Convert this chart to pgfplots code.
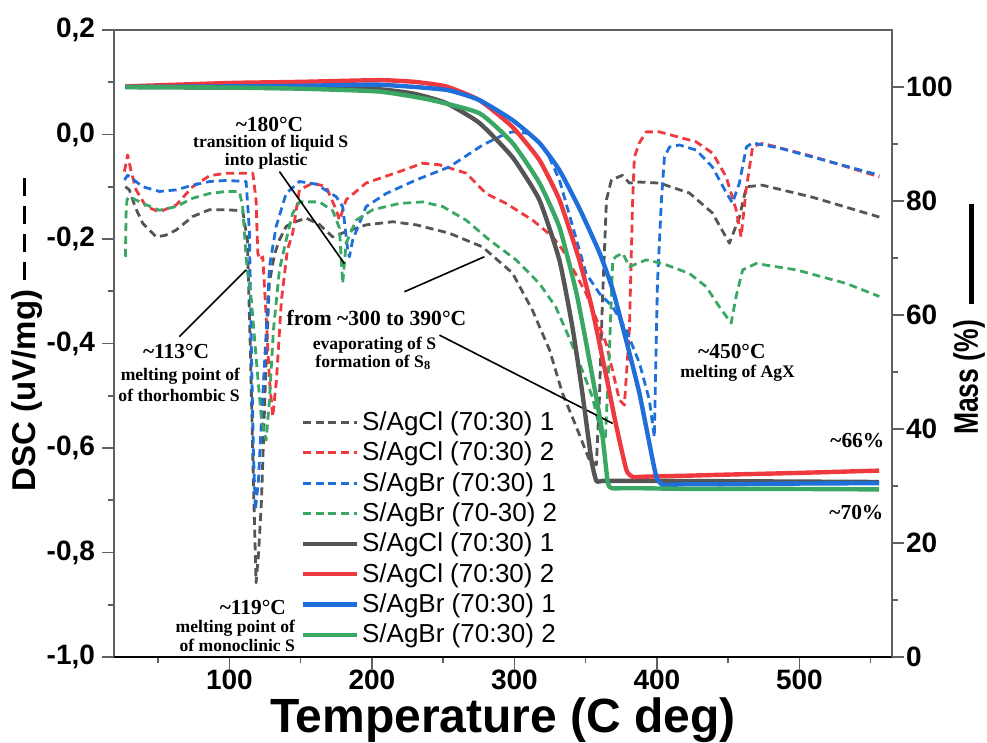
\documentclass[border=0pt]{standalone}
\usepackage{fontspec}
\setmainfont{Liberation Sans}
\newfontfamily\tnr{Liberation Serif}
\usepackage{pgfplots}
\pgfplotsset{compat=1.18}
\definecolor{cgray}{HTML}{555555}
\definecolor{cred}{HTML}{EE3A3E}
\definecolor{cblue}{HTML}{1F6FDA}
\definecolor{cgreen}{HTML}{3AA864}
\definecolor{axc}{HTML}{606060}
\tikzset{
  annA/.style={font=\tnr\bfseries\fontsize{10.7}{12}\selectfont,inner sep=1pt},
  annB/.style={font=\tnr\bfseries\fontsize{8.8}{10}\selectfont,inner sep=1pt},
}
\newcommand\dd{\hspace{5pt}\rule[0.3em]{9pt}{1.5pt}}
\pgfplotsset{
  dsc/.style={line width=1.4pt,dash pattern=on 4pt off 2.4pt,line join=round},
  tga/.style={line width=2.2pt,line join=round,smooth,tension=0.3},
  common/.style={width=389pt,height=313.5pt,scale only axis,
    xmin=19,xmax=565,
    tick align=outside,major tick length=6pt,minor tick length=3pt,
    tick style={axc,line width=0.8pt},
    axis line style={axc,line width=1pt},
    tick label style={font=\fontsize{14}{16}\bfseries\selectfont},
    /pgf/number format/assume math mode=true},
}
\begin{document}
\begin{tikzpicture}
\begin{axis}[common,name=ax,
  ymin=-1,ymax=0.2,
  xtick={100,200,...,500},minor xtick={50,150,...,550},
  ytick={-1,-0.8,...,0.21},minor ytick={-0.9,-0.7,...,0.1},
  xtick pos=bottom,ytick pos=left,
  xticklabel style={yshift=3pt},
  yticklabel style={/pgf/number format/.cd,fixed,fixed zerofill,precision=1,use comma},
  xlabel={Temperature (C deg)},
  xlabel style={at={(axis description cs:0.5,0)},anchor=center,yshift=-31.5pt,
    font=\fontsize{24}{26}\bfseries\selectfont},
  ylabel={DSC (uV/mg)\dd\dd\dd\dd},
  ylabel style={at={(axis description cs:0,0.5)},anchor=center,xshift=4.5pt,yshift=43.5pt,
    font=\fontsize{16.5}{18}\bfseries\selectfont},
]
% S/AgCl 1
\addplot[dsc,cgray] coordinates {(27,-0.10) (29.8,-0.106) (34,-0.14) (39.2,-0.170) (48.6,-0.196) (55,-0.193) (62.6,-0.183) (74.2,-0.157) (86,-0.144) (97.7,-0.144) (109.3,-0.146) (112.6,-0.202) (114.7,-0.412) (116.8,-0.661) (118.7,-0.858) (120.5,-0.80) (122.5,-0.70) (125.3,-0.47) (128,-0.284) (131.6,-0.23) (135,-0.202) (139.8,-0.176) (144.2,-0.169) (153.8,-0.160) (163,-0.172) (172.5,-0.196) (176,-0.192) (181.9,-0.186) (195.9,-0.173) (214.6,-0.167) (231.2,-0.173) (254.4,-0.189) (277.5,-0.215) (298.6,-0.265) (312.6,-0.336) (324.6,-0.412) (333.7,-0.495) (343.5,-0.560) (352.6,-0.623) (357.5,-0.632) (359.6,-0.508) (361.8,-0.317) (364.6,-0.125) (368.1,-0.087) (375.8,-0.078) (380.7,-0.093) (387.7,-0.091) (401.8,-0.093) (422.8,-0.112) (438.9,-0.150) (450.9,-0.208) (457.9,-0.158) (462.8,-0.100) (474.0,-0.097) (509.1,-0.120) (556.1,-0.158)};
% S/AgCl 2
\addplot[dsc,cred] coordinates {(26.3,-0.071) (28.6,-0.039) (31,-0.07) (34.5,-0.106) (41.5,-0.138) (50.9,-0.148) (62.6,-0.135) (74.2,-0.100) (86,-0.079) (97.7,-0.074) (116.4,-0.074) (118.7,-0.125) (119.9,-0.227) (121.5,-0.240) (123.4,-0.234) (125.8,-0.349) (128.1,-0.470) (130.4,-0.540) (133,-0.470) (136.5,-0.317) (140.7,-0.221) (144.4,-0.189) (149.1,-0.106) (158.5,-0.093) (167.9,-0.100) (174.9,-0.144) (177.2,-0.164) (181.9,-0.125) (195.9,-0.093) (219.3,-0.071) (235.6,-0.055) (247.4,-0.058) (266.1,-0.074) (280.1,-0.113) (294.2,-0.132) (312.8,-0.164) (326.9,-0.196) (333.9,-0.221) (350.3,-0.304) (364.4,-0.400) (373.7,-0.508) (377.2,-0.518) (380.7,-0.374) (383,-0.125) (384.2,-0.043) (387.7,-0.016) (392.4,0.005) (401.8,0.005) (427.5,-0.014) (439.2,-0.036) (448.6,-0.081) (455.6,-0.144) (459.1,-0.196) (462.6,-0.106) (467.2,-0.023) (474.3,-0.017) (509.4,-0.042) (556.1,-0.081)};
% S/AgBr 1
\addplot[dsc,cblue] coordinates {(26.3,-0.087) (28.6,-0.078) (39.2,-0.100) (50.9,-0.109) (62.6,-0.106) (74.2,-0.097) (86,-0.090) (97.7,-0.088) (111.7,-0.090) (114,-0.183) (115.4,-0.412) (116.8,-0.604) (118.2,-0.719) (120.4,-0.661) (122.5,-0.546) (125.8,-0.380) (128.1,-0.253) (132.8,-0.176) (139.8,-0.113) (149.1,-0.090) (160.8,-0.095) (174.9,-0.119) (179.5,-0.138) (183,-0.221) (184.2,-0.234) (186.5,-0.202) (195.9,-0.138) (210,-0.113) (231,-0.087) (254.4,-0.062) (277.8,-0.020) (294.2,0.002) (298.8,0.005) (310.5,0.002) (322.2,-0.030) (331.6,-0.087) (340.9,-0.176) (350.3,-0.266) (359.6,-0.304) (369,-0.330) (378.4,-0.374) (387.7,-0.437) (394.7,-0.508) (398.2,-0.579) (400.4,-0.284) (403.2,-0.125) (405.3,-0.043) (408.8,-0.024) (415.8,-0.020) (427.7,-0.030) (438.9,-0.062) (448.8,-0.112) (453,-0.131) (457.9,-0.093) (462.8,-0.024) (467,-0.016) (486,-0.026) (509.1,-0.043) (556.1,-0.078)};
% S/AgBr 2
\addplot[dsc,cgreen] coordinates {(27,-0.234) (27.5,-0.15) (28.1,-0.125) (29.8,-0.119) (39.2,-0.132) (50.9,-0.145) (62.6,-0.138) (74.2,-0.122) (86,-0.113) (97.7,-0.109) (107,-0.109) (109.3,-0.138) (111.7,-0.234) (112.6,-0.259) (115.4,-0.317) (118.9,-0.432) (122.5,-0.546) (125.8,-0.585) (128.1,-0.508) (130.9,-0.374) (135.1,-0.259) (139.8,-0.202) (144.4,-0.151) (149.1,-0.129) (163.2,-0.129) (172.5,-0.146) (177.2,-0.179) (179.5,-0.285) (181.9,-0.208) (188.9,-0.164) (200.6,-0.144) (219.3,-0.132) (235.6,-0.129) (249.7,-0.138) (266.1,-0.164) (282.5,-0.202) (301.2,-0.240) (317.5,-0.285) (329,-0.33) (338.6,-0.39) (345.6,-0.437) (354.7,-0.502) (360.6,-0.571) (363.9,-0.579) (366.7,-0.412) (369,-0.240) (371.6,-0.233) (376,-0.227) (380.7,-0.253) (392.4,-0.240) (404.1,-0.247) (422.8,-0.266) (434.5,-0.291) (443.9,-0.330) (452.1,-0.361) (455.6,-0.310) (460.2,-0.259) (469.6,-0.247) (497.7,-0.259) (532.8,-0.285) (556.1,-0.310)};
% annotations
\node[annA] at (axis cs:128.1,0.02) {\textasciitilde180°C};
\node[annB] at (axis cs:129,-0.017) {transition of liquid S};
\node[annB] at (axis cs:125.8,-0.051) {into plastic};
\draw[black,line width=0.8pt] (axis cs:135.1,-0.071) -- (axis cs:180.7,-0.247);
\node[annA] at (axis cs:62.6,-0.416) {\textasciitilde113°C};
\node[annB] at (axis cs:65.6,-0.462) {melting point of};
\node[annB] at (axis cs:64.7,-0.499) {of thorhombic S};
\draw[black,line width=0.8pt] (axis cs:64.9,-0.387) -- (axis cs:111.7,-0.259);
\node[annA,font=\tnr\bfseries\fontsize{10.8}{12}\selectfont] at (axis cs:203.2,-0.352) {from \textasciitilde300 to 390°C};
\node[annB] at (axis cs:201.8,-0.403) {evaporating of S};
\node[annB] at (axis cs:201,-0.437) {formation of S\textsubscript{8}};
\draw[black,line width=0.8pt] (axis cs:222.8,-0.301) -- (axis cs:278.9,-0.234);
\draw[black,line width=0.8pt] (axis cs:247.4,-0.384) -- (axis cs:369,-0.553);
\node[annA] at (axis cs:452.6,-0.416) {\textasciitilde450°C};
\node[annB] at (axis cs:456.7,-0.456) {melting of AgX};
\node[annA] at (axis cs:540.7,-0.585) {\textasciitilde66\%};
\node[annA] at (axis cs:540,-0.723) {\textasciitilde70\%};
\node[annA,anchor=east] at (axis cs:141.3,-0.906) {\textasciitilde119°C};
\node[annB,anchor=east] at (axis cs:147.7,-0.945) {melting point of};
\node[annB,anchor=east] at (axis cs:147.7,-0.977) {of monoclinic S};
\draw[black,line width=1.4pt] (rel axis cs:0,0) -- (rel axis cs:1,0);
\end{axis}
\begin{axis}[common,
  ymin=0,ymax=110,
  axis x line=none,axis y line*=right,
  ytick={0,20,...,100},minor ytick={10,30,...,90},
  yticklabel style={xshift=-2.5pt},
  ylabel={\scalebox{0.78}[1]{Mass (\%)}\hspace{8pt}\rule[0.1em]{50pt}{2.5pt}},
  ylabel style={at={(axis description cs:1,0.5)},anchor=center,xshift=12pt,yshift=-38.5pt,
    font=\fontsize{17}{19}\bfseries\selectfont},
  legend cell align=left,
  legend image code/.code={\draw[#1] (0pt,0pt) -- (27pt,0pt);},
  legend style={at={(rel axis cs:0.2315,0.4035)},anchor=north west,draw=none,fill=none,
    font=\fontsize{13}{14}\selectfont,row sep=1.05pt,nodes={inner sep=1.6pt}},
]
\addlegendimage{dsc,cgray}\addlegendentry{S/AgCl (70:30) 1}
\addlegendimage{dsc,cred}\addlegendentry{S/AgCl (70:30) 2}
\addlegendimage{dsc,cblue}\addlegendentry{S/AgBr (70:30) 1}
\addlegendimage{dsc,cgreen}\addlegendentry{S/AgBr (70-30) 2}
\addplot[tga,cgray] coordinates {(27,100) (100,99.9) (150,99.8) (205,99.6) (230,98.8) (252,97.2) (275.4,93.7) (298.6,87.7) (317.5,80.2) (331.6,69.6) (340.7,57.9) (347.7,46.3) (354,34.6) (357.5,30.9) (362,30.9) (375,30.9) (400,30.9) (480,30.8) (556,30.7)};
\addlegendentry{S/AgCl (70:30) 1}
\addplot[tga,cred] coordinates {(27,100.1) (100,100.7) (150,100.9) (205,101.2) (230,100.9) (252,100.1) (275.4,97.7) (298.6,93) (317.5,87.2) (331.6,80.2) (345.6,69.6) (354.7,60.9) (364.6,49.1) (371.6,40.4) (378.6,32.8) (383,31.6) (388,31.6) (400,31.7) (420,31.8) (450,32.0) (500,32.3) (556,32.7)};
\addlegendentry{S/AgCl (70:30) 2}
\addplot[tga,cblue] coordinates {(27,100) (100,100.1) (150,100.2) (205,100.4) (252,99.5) (275.4,97.7) (298.6,94.2) (317.5,90.2) (331.6,85.4) (345.6,78.7) (359.6,71.0) (368.8,64.6) (378.6,55.4) (387.7,46.3) (394.7,37.5) (399.6,31.6) (403.8,30.2) (409,30.2) (420,30.3) (450,30.3) (480,30.4) (556,30.5)};
\addlegendentry{S/AgBr (70:30) 1}
\addplot[tga,cgreen] coordinates {(27,100) (100,99.9) (150,99.7) (205,99.2) (240,97.8) (275.4,95.4) (298.6,90.2) (317.5,83.2) (331.6,75.4) (343.5,63.9) (352.6,52.1) (361,40.4) (365.6,30.5) (369,29.6) (374,29.6) (390,29.6) (420,29.5) (480,29.5) (556,29.4)};
\addlegendentry{S/AgBr (70:30) 2}
\end{axis}
\pgfresetboundingbox
\path[use as bounding box] ([shift={(-57pt,-42.5pt)}]ax.south west) rectangle ([shift={(47.5pt,15pt)}]ax.north east);
\end{tikzpicture}
\end{document}
